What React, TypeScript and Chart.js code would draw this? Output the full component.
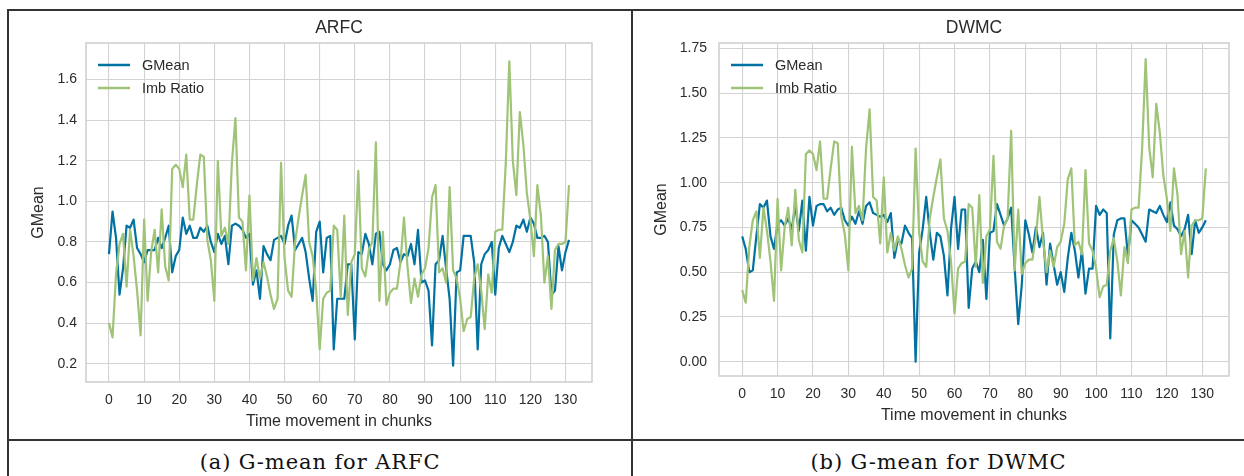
import React, { useEffect, useRef } from "react";
import { Chart, registerables } from "chart.js";

Chart.register(...registerables);

// ---------- data ----------
const chunkTicks = [0, 10, 20, 30, 40, 50, 60, 70, 80, 90, 100, 110, 120, 130];
const arfcYTicks = [0.2, 0.4, 0.6, 0.8, 1.0, 1.2, 1.4, 1.6];
const dwmcYTicks = [0.0, 0.25, 0.5, 0.75, 1.0, 1.25, 1.5, 1.75];

const arfcGMean = [
  0.74, 0.95, 0.82, 0.54, 0.67, 0.88, 0.87, 0.91, 0.77, 0.74,
  0.70, 0.76, 0.76, 0.76, 0.82, 0.77, 0.82, 0.88, 0.65, 0.73,
  0.76, 0.92, 0.84, 0.88, 0.82, 0.82, 0.87, 0.85, 0.88, 0.80,
  0.75, 0.84, 0.79, 0.83, 0.69, 0.88, 0.89, 0.88, 0.86, 0.82,
  0.84, 0.59, 0.66, 0.52, 0.78, 0.74, 0.71, 0.81, 0.82, 0.83,
  0.79, 0.88, 0.93, 0.76, 0.79, 0.82, 0.75, 0.62, 0.51, 0.85,
  0.90, 0.65, 0.82, 0.83, 0.27, 0.52, 0.52, 0.52, 0.69, 0.69,
  0.32, 0.75, 0.74, 0.84, 0.79, 0.69, 0.84, 0.85, 0.69, 0.66,
  0.69, 0.76, 0.77, 0.70, 0.74, 0.73, 0.79, 0.69, 0.86, 0.60,
  0.61, 0.56, 0.29, 0.69, 0.71, 0.83, 0.67, 0.52, 0.19, 0.65,
  0.66, 0.83, 0.83, 0.83, 0.70, 0.27, 0.69, 0.74, 0.76, 0.80,
  0.54, 0.77, 0.83, 0.79, 0.75, 0.80, 0.88, 0.87, 0.91, 0.85,
  0.92, 0.89, 0.82, 0.82, 0.83, 0.80, 0.54, 0.56, 0.78, 0.66,
  0.75, 0.81,
];

const dwmcGMean = [
  0.70, 0.63, 0.50, 0.51, 0.70, 0.88, 0.86, 0.90, 0.70, 0.63,
  0.77, 0.79, 0.76, 0.80, 0.74, 0.87, 0.73, 0.90, 0.62, 0.92,
  0.76, 0.87, 0.88, 0.88, 0.84, 0.86, 0.82, 0.85, 0.86, 0.79,
  0.76, 0.81, 0.77, 0.84, 0.77, 0.87, 0.89, 0.83, 0.82, 0.81,
  0.82, 0.78, 0.83, 0.58, 0.68, 0.66, 0.76, 0.72, 0.69, 0.00,
  0.61, 0.74, 0.92, 0.72, 0.57, 0.72, 0.70, 0.59, 0.37, 0.74,
  0.92, 0.63, 0.85, 0.85, 0.30, 0.52, 0.56, 0.50, 0.68, 0.35,
  0.72, 0.73, 0.88, 0.82, 0.76, 0.80, 0.86, 0.52, 0.21, 0.43,
  0.79, 0.71, 0.61, 0.75, 0.64, 0.72, 0.43, 0.66, 0.54, 0.43,
  0.50, 0.39, 0.58, 0.72, 0.62, 0.47, 0.62, 0.38, 0.52, 0.52,
  0.87, 0.82, 0.85, 0.83, 0.13, 0.71, 0.79, 0.80, 0.80, 0.59,
  0.79, 0.77, 0.75, 0.71, 0.67, 0.85, 0.84, 0.83, 0.87, 0.82,
  0.78, 0.89, 0.76, 0.74, 0.70, 0.74, 0.82, 0.60, 0.79, 0.72,
  0.75, 0.79,
];

const imbRatio = [
  0.40, 0.33, 0.64, 0.79, 0.84, 0.58, 0.86, 0.73, 0.56, 0.34,
  0.91, 0.51, 0.75, 0.86, 0.65, 0.96, 0.68, 0.61, 1.16, 1.18,
  1.16, 1.07, 1.23, 0.91, 0.91, 1.08, 1.23, 1.22, 0.81, 0.71,
  0.51, 1.20, 0.83, 0.87, 0.79, 1.19, 1.41, 0.92, 0.90, 0.66,
  1.03, 0.61, 0.72, 0.62, 0.70, 0.63, 0.54, 0.47, 0.52, 1.19,
  0.72, 0.56, 0.53, 0.80, 0.92, 1.03, 1.13, 0.80, 0.73, 0.56,
  0.27, 0.52, 0.55, 0.56, 0.88, 0.86, 0.53, 0.93, 0.44, 0.70,
  0.74, 1.15, 0.67, 0.63, 0.76, 0.80, 1.29, 0.51, 0.85, 0.49,
  0.55, 0.57, 0.57, 0.70, 0.92, 0.68, 0.50, 0.62, 0.53, 0.64,
  0.67, 0.77, 1.02, 1.08, 0.65, 0.67, 0.60, 1.07, 0.66, 0.62,
  0.52, 0.36, 0.42, 0.43, 0.62, 0.69, 0.56, 0.37, 0.64, 0.55,
  0.85, 0.86, 0.86, 1.19, 1.69, 1.20, 1.03, 1.44, 1.28, 1.04,
  0.91, 0.73, 1.08, 0.93, 0.60, 0.73, 0.47, 0.76, 0.79, 0.79,
  0.80, 1.08,
];

// ---------- styles ----------
const BLUE = "#0272a2";
const GREEN = "#9fc377";
const GRID = "#d3d3d3";
const FRAME = "#d0d0d0";
const TEXT = "#2b2b2b";
const SANS = "'Liberation Sans', Arial, Helvetica, sans-serif";
const LINE_COLOR = "#333333";

Chart.defaults.font.family = SANS;

const frameLegendPlugin = {
  id: "frameLegend",
  afterDatasetsDraw(chart: any) {
    const { ctx, chartArea: a } = chart;
    ctx.save();
    ctx.strokeStyle = FRAME;
    ctx.lineWidth = 1.6;
    ctx.strokeRect(a.left, a.top, a.right - a.left, a.bottom - a.top);
    // legend in upper-left of the axes
    const items = chart.data.datasets;
    items.forEach((ds: any, i: number) => {
      const y = a.top + 22 + i * 23;
      ctx.strokeStyle = ds.borderColor;
      ctx.lineWidth = 2.5;
      ctx.beginPath();
      ctx.moveTo(a.left + 12, y);
      ctx.lineTo(a.left + 44, y);
      ctx.stroke();
      ctx.fillStyle = TEXT;
      ctx.font = `14.5px ${SANS}`;
      ctx.textAlign = "left";
      ctx.textBaseline = "middle";
      ctx.fillText(ds.label, a.left + 56, y + 0.5);
    });
    ctx.restore();
  },
};

type PanelProps = {
  title: string;
  gmean: number[];
  yTicks: number[];
  yMin: number;
  yMax: number;
  decimals: number;
  width: number;
  height: number;
  yAxisWidth: number;
  yTickPad: number;
  padRight: number;
  padBottom: number;
};

function Panel(p: PanelProps) {
  const ref = useRef<HTMLCanvasElement | null>(null);
  useEffect(() => {
    if (!ref.current) return;
    const chart = new Chart(ref.current, {
      type: "line",
      data: {
        datasets: [
          {
            label: "GMean",
            data: p.gmean.map((y, i) => ({ x: i, y })),
            borderColor: BLUE,
            borderWidth: 2.2,
            pointRadius: 0,
            tension: 0,
            borderJoinStyle: "round",
            fill: false,
            order: 1,
          },
          {
            label: "Imb Ratio",
            data: imbRatio.map((y, i) => ({ x: i, y })),
            borderColor: GREEN,
            borderWidth: 2.2,
            pointRadius: 0,
            tension: 0,
            borderJoinStyle: "round",
            fill: false,
            order: 0,
          },
        ],
      },
      options: {
        responsive: false,
        animation: false,
        devicePixelRatio: 1,
        layout: { padding: { left: 0, top: 0, right: p.padRight, bottom: p.padBottom } },
        plugins: {
          legend: { display: false },
          tooltip: { enabled: false },
          title: {
            display: true,
            text: p.title,
            fullSize: false,
            color: TEXT,
            font: { size: 17.5, weight: "normal", family: SANS },
            padding: { top: 6, bottom: 4 },
          },
        },
        scales: {
          x: {
            type: "linear",
            min: -6.55,
            max: 137.55,
            afterBuildTicks: (s: any) => {
              s.ticks = chunkTicks.map((v) => ({ value: v }));
            },
            afterFit: (s: any) => {
              s.height = 50;
            },
            grid: { color: GRID, lineWidth: 1.1, drawTicks: false },
            border: { display: false },
            ticks: {
              padding: 9.5,
              color: TEXT,
              font: { size: 14, family: SANS },
              maxRotation: 0,
              autoSkip: false,
              callback: (v: any) => String(v),
            },
            title: {
              display: true,
              text: "Time movement in chunks",
              color: TEXT,
              font: { size: 16, family: SANS },
              padding: { top: 0, bottom: 1 },
            },
          },
          y: {
            type: "linear",
            min: p.yMin,
            max: p.yMax,
            afterBuildTicks: (s: any) => {
              s.ticks = p.yTicks.map((v) => ({ value: v }));
            },
            afterFit: (s: any) => {
              s.width = p.yAxisWidth;
            },
            grid: { color: GRID, lineWidth: 1.1, drawTicks: false },
            border: { display: false },
            ticks: {
              padding: p.yTickPad,
              color: TEXT,
              font: { size: 14, family: SANS },
              callback: (v: any) => Number(v).toFixed(p.decimals),
            },
            title: {
              display: true,
              text: "GMean",
              color: TEXT,
              font: { size: 16, family: SANS },
              padding: { top: 19.4, bottom: 0 },
            },
          },
        },
      },
      plugins: [frameLegendPlugin],
    } as any);
    return () => chart.destroy();
  }, []);
  return <canvas ref={ref} width={p.width} height={p.height} style={{ display: "block" }} />;
}

const abs = (l: number, t: number, w: number, h: number, extra: any = {}) => ({
  position: "absolute" as const,
  left: l,
  top: t,
  width: w,
  height: h,
  ...extra,
});

export default function App() {
  const captionStyle = {
    fontFamily: "'DejaVu Serif', 'Liberation Serif', serif",
    fontSize: 21,
    letterSpacing: "0.9px",
    color: "#111",
    textAlign: "center" as const,
    lineHeight: "24px",
    whiteSpace: "nowrap" as const,
  };
  return (
    <div style={abs(0, 0, 1244, 476, { background: "#fff", overflow: "hidden" })}>
      <div style={abs(10, 12, 620, 428)}>
        <Panel
          title="ARFC"
          gmean={arfcGMean}
          yTicks={arfcYTicks}
          yMin={0.11}
          yMax={1.78}
          decimals={1}
          width={620}
          height={428}
          yAxisWidth={76}
          yTickPad={9}
          padRight={38}
          padBottom={8}
        />
      </div>
      <div style={abs(633, 12, 611, 428)}>
        <Panel
          title="DWMC"
          gmean={dwmcGMean}
          yTicks={dwmcYTicks}
          yMin={-0.08}
          yMax={1.78}
          decimals={2}
          width={611}
          height={428}
          yAxisWidth={86}
          yTickPad={12}
          padRight={15}
          padBottom={14}
        />
      </div>
      {/* table borders */}
      <div style={abs(8, 9, 1240, 2, { background: LINE_COLOR })} />
      <div style={abs(7, 9, 2, 470, { background: LINE_COLOR })} />
      <div style={abs(631, 9, 2, 470, { background: LINE_COLOR })} />
      <div style={abs(8, 439, 1240, 2, { background: LINE_COLOR })} />
      {/* captions */}
      <div style={abs(9, 450, 622, 24, captionStyle)}>(a) G-mean for ARFC</div>
      <div style={abs(633, 450, 611, 24, captionStyle)}>(b) G-mean for DWMC</div>
    </div>
  );
}
